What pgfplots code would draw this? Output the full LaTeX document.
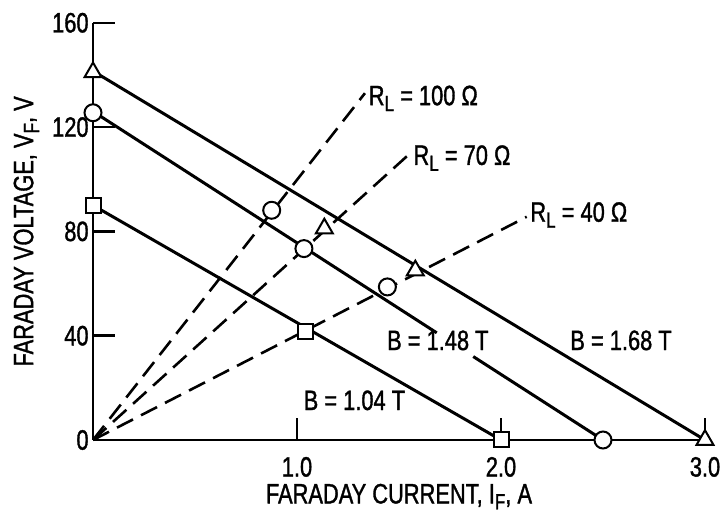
\documentclass[border=0pt]{standalone}
\usepackage{pgfplots}
\pgfplotsset{compat=1.18}
\usepackage{fontspec}
\setmainfont{Liberation Sans}[FakeStretch=0.78, FakeBold=1.2]
\newcommand\sub[1]{\raisebox{-0.4ex}{\fontsize{11}{12}\selectfont #1}}
\begin{document}
\begin{tikzpicture}[font=\fontsize{14}{16}\selectfont]
\path[use as bounding box] (-46.5pt,-36pt) rectangle (316.5pt,220pt);
\begin{axis}[
  at={(0,0)}, anchor=south west,
  scale only axis, width=306pt, height=208.6pt,
  xmin=0, xmax=3, ymin=0, ymax=160,
  axis x line=bottom, axis y line=left,
  axis line style={-, line width=1.2pt},
  tick align=inside, major tick length=11pt,
  tick style={line width=1.2pt, black},
  xtick={1,2,3}, xticklabels={1.0,2.0,3.0},
  ytick={0,40,80,120,160}, yticklabels={0,40,80,120,160},
  /pgf/number format/assume math mode=true,
  xticklabel style={inner sep=0pt, yshift=-8.3pt},
  yticklabel style={inner sep=2pt},
  xlabel={FARADAY CURRENT, I\sub{F}, A},
  ylabel={FARADAY VOLTAGE, V\sub{F}, V},
  xlabel style={at={(axis description cs:0.5,-0.152)}, anchor=base, inner sep=0pt},
  ylabel style={at={(axis description cs:-0.0977,0.5)}, anchor=base, inner sep=0pt},
  clip=false,
]
% B lines
\addplot[black, line width=1.5pt] coordinates {(0,141.5) (3.0,0)};
\addplot[black, line width=1.5pt] coordinates {(0,126) (1.685,41.1)};
\addplot[black, line width=1.5pt] coordinates {(1.864,32.0) (2.5,0)};
\addplot[black, line width=1.5pt] coordinates {(0,90) (2.0,0)};
% load lines
\addplot[black, line width=1.3pt, dash pattern=on 9pt off 4.5pt] coordinates {(0,0) (1.333,133)};
\addplot[black, line width=1.3pt, dash pattern=on 9pt off 4.5pt] coordinates {(0,0) (1.554,109.9)};
\addplot[black, line width=1.3pt, dash pattern=on 9pt off 4.5pt] coordinates {(0,0) (2.126,85.6)};
% data points
\addplot[only marks, mark=triangle*, mark size=4.9pt, mark options={fill=white, draw=black, line width=1pt}]
  coordinates {(0,141) (1.134,81.1) (1.58,65) (3.0,0)};
\addplot[only marks, mark=*, mark size=4.25pt, mark options={fill=white, draw=black, line width=1pt}]
  coordinates {(0,125.5) (0.876,88.1) (1.034,73.4) (1.443,58.7) (2.5,0)};
\addplot[only marks, mark=square*, mark size=3.75pt, mark options={fill=white, draw=black, line width=1pt}]
  coordinates {(0,90) (1.044,41.5) (2.0,0)};
% labels
\node[anchor=base west, inner sep=0] at (axis cs:1.35,128.4) {R\sub{L} = 100 Ω};
\node[anchor=base west, inner sep=0] at (axis cs:1.569,105.5) {R\sub{L} = 70 Ω};
\node[anchor=base west, inner sep=0] at (axis cs:2.142,83.7) {R\sub{L} = 40 Ω};
\node[anchor=base west, inner sep=0] at (axis cs:1.44,34.5) {B = 1.48 T};
\node[anchor=base west, inner sep=0] at (axis cs:2.338,34.5) {B = 1.68 T};
\node[anchor=base west, inner sep=0] at (axis cs:1.031,11.5) {B = 1.04 T};
\end{axis}
\end{tikzpicture}
\end{document}
